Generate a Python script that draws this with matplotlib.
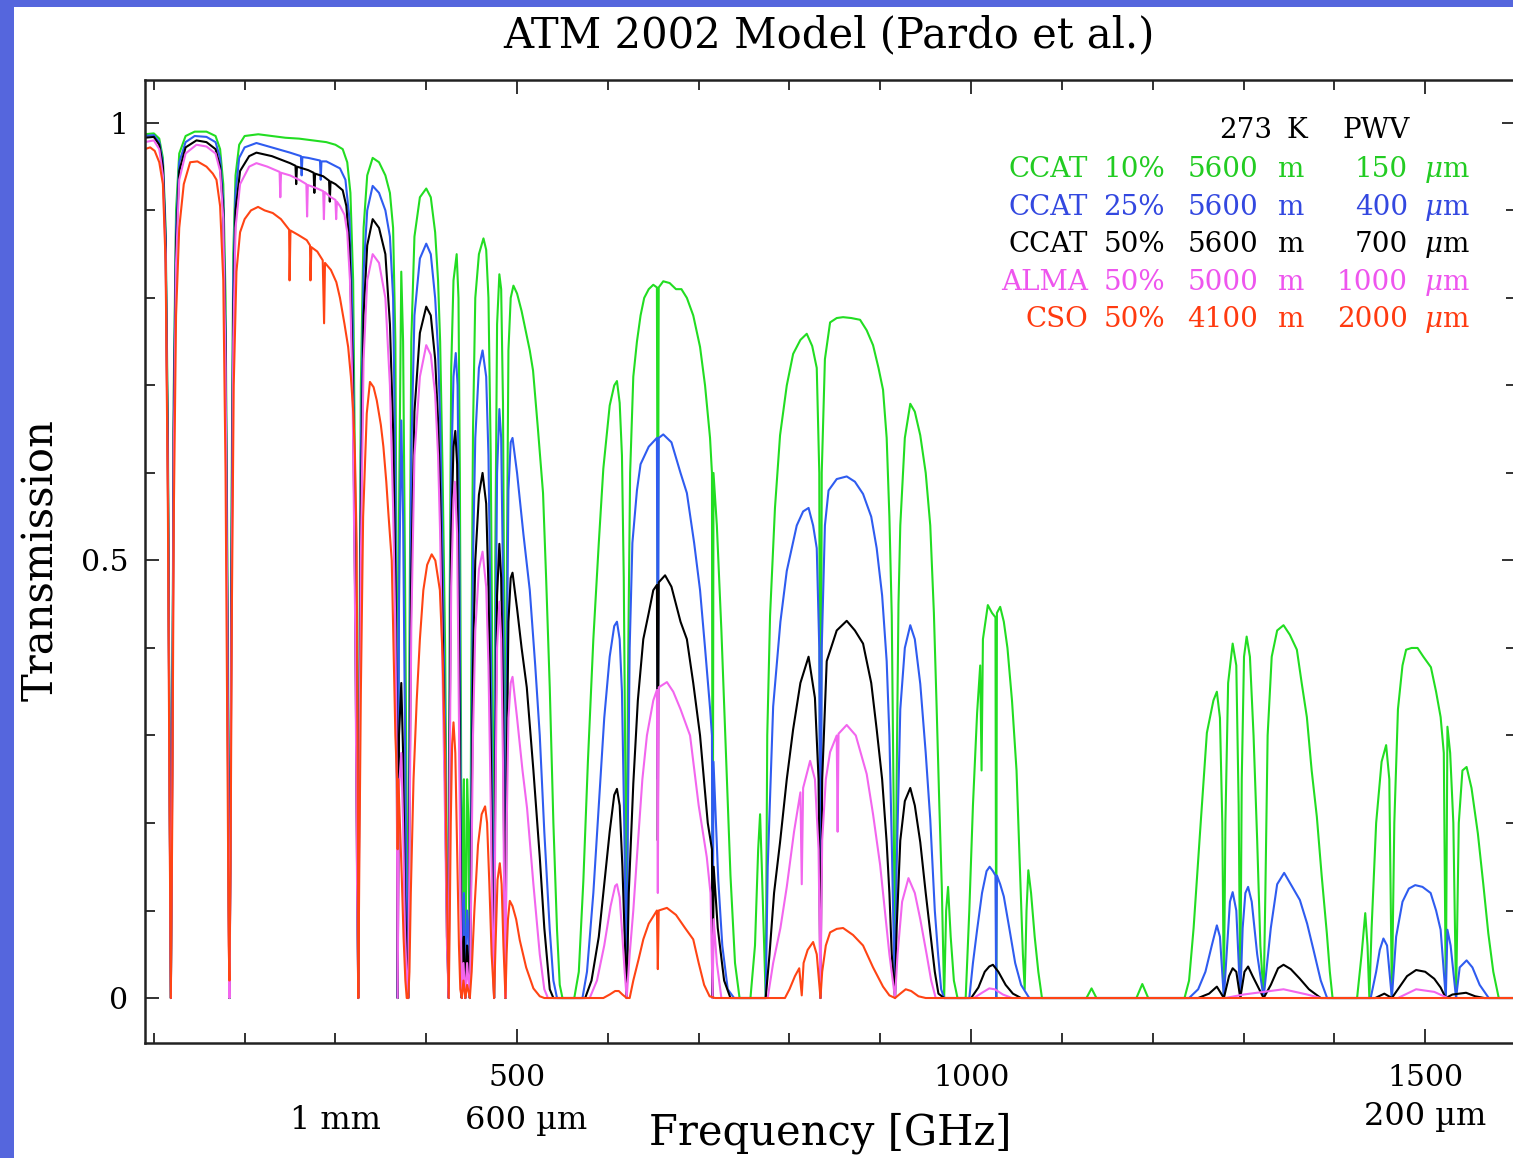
import numpy as np
import matplotlib
matplotlib.use("Agg")
import matplotlib.pyplot as plt
from matplotlib.patches import Rectangle
from matplotlib.ticker import MultipleLocator

# ---------------- data: (frequency GHz, transmission) ----------------
ccat10 = [
    (90, 0.987), (100, 0.988), (106, 0.982), (110, 0.96), (113, 0.88), (115.5, 0.65), (117.3, 0.3), (118.75, 0.0),
    (120.3, 0.3), (122, 0.7), (124.5, 0.9), (128, 0.965), (135, 0.985), (145, 0.99), (158, 0.99), (168, 0.985),
    (173, 0.97), (176.5, 0.93), (179, 0.8), (181, 0.5), (182.5, 0.15), (183.3, 0.0),
    (184.3, 0.2), (185.5, 0.55), (187.5, 0.85), (190, 0.94), (194, 0.975), (200, 0.985), (215, 0.987), (230, 0.985),
    (245, 0.983), (260, 0.982), (275, 0.98), (290, 0.978), (300, 0.975), (308, 0.97), (313, 0.955), (316.5, 0.92),
    (319.5, 0.82), (322, 0.55), (324, 0.2), (325.15, 0.0),
    (326.3, 0.35), (328, 0.7), (331, 0.88), (335, 0.94), (341, 0.96), (348, 0.955), (355, 0.94), (360, 0.92),
    (363.5, 0.88), (366, 0.75), (367.5, 0.45), (368.5, 0.0), (370, 0.55), (372.5, 0.83), (374.5, 0.75), (376.5, 0.5),
    (378.5, 0.2), (380.2, 0.0),
    (381.5, 0.4), (383.5, 0.75), (387, 0.87), (393, 0.915), (400, 0.925), (405, 0.915), (409.8, 0.875), (413, 0.82),
    (415.3, 0.75), (418, 0.6), (420.8, 0.4), (422.8, 0.15), (424.76, 0.0),
    (425.8, 0.45), (427.5, 0.72), (430, 0.82), (433.5, 0.85), (435.5, 0.8), (437, 0.6), (438.3, 0.3), (439.15, 0.0),
    (440.5, 0.2), (441.5, 0.25), (443, 0.0), (445, 0.25), (446.5, 0.2), (448, 0.0),
    (449.5, 0.35), (451.5, 0.65), (454, 0.8), (458, 0.85), (463, 0.868), (466, 0.855), (468.5, 0.8), (471, 0.62),
    (473, 0.35), (474.7, 0.0),
    (476, 0.5), (478, 0.77), (480.5, 0.827), (482.5, 0.81), (484.5, 0.68), (486, 0.4), (487.25, 0.0),
    (488.5, 0.45), (490.5, 0.74), (493, 0.8), (496, 0.814), (500, 0.805), (505, 0.785), (510, 0.76), (514, 0.74),
    (517.6, 0.717), (523, 0.65), (528.6, 0.577), (532, 0.48), (536, 0.355), (540, 0.2), (544, 0.078), (547, 0.015),
    (550, 0.0), (563, 0.0),
    (568, 0.03), (573, 0.134), (578, 0.27), (584, 0.41), (590, 0.52), (595, 0.605), (602, 0.677), (607, 0.7),
    (610, 0.705), (613, 0.68), (615.5, 0.62), (617.5, 0.48), (619.3, 0.25), (620.7, 0.0),
    (622, 0.35), (624.5, 0.6), (628, 0.71), (632, 0.75), (636, 0.78), (640, 0.8), (645, 0.81), (650, 0.815),
    (654, 0.812), (655, 0.4), (656, 0.812), (661, 0.819), (668, 0.817), (675, 0.81), (681, 0.81), (687, 0.8),
    (694, 0.78), (701.5, 0.744), (707, 0.7), (712.5, 0.64), (714.6, 0.6), (715.4, 0.02), (716.3, 0.6), (720, 0.54),
    (725, 0.42), (730, 0.28), (735, 0.14), (740, 0.04), (745, 0.0), (757, 0.0),
    (762, 0.06), (765.5, 0.17), (767.6, 0.21), (769.5, 0.15), (771.5, 0.08), (773.8, 0.0), (775.5, 0.3),
    (778.6, 0.437), (784, 0.56), (789.6, 0.643), (797, 0.7), (804, 0.736), (812, 0.752), (819, 0.759), (825, 0.745),
    (830, 0.72), (832.8, 0.6), (834.1, 0.02), (835.5, 0.6), (839, 0.73), (844.7, 0.772), (852, 0.777), (859, 0.778),
    (868, 0.777), (877.7, 0.775), (885, 0.763), (892, 0.746), (898, 0.72), (903, 0.695), (907, 0.64), (910, 0.55),
    (912.6, 0.437), (914.7, 0.22), (916.2, 0.0),
    (918, 0.25), (920, 0.45), (922, 0.54), (927, 0.64), (933, 0.679), (938, 0.67), (944, 0.643), (950, 0.6),
    (955, 0.54), (959, 0.44), (962, 0.333), (965, 0.22), (967.7, 0.127), (970.3, 0.0), (972.5, 0.1), (974.6, 0.127),
    (977.5, 0.07), (981, 0.02), (985, 0.0), (994, 0.0),
    (998, 0.1), (1002, 0.22), (1006.6, 0.326), (1010, 0.38), (1011.5, 0.26), (1013, 0.41), (1018.4, 0.449),
    (1023, 0.44), (1026.8, 0.435), (1027.6, 0.0), (1028.4, 0.44), (1032, 0.447), (1036, 0.43), (1040, 0.40),
    (1045, 0.34), (1050, 0.26), (1054, 0.14), (1057, 0.05), (1059, 0.01), (1061, 0.1), (1063, 0.146), (1066, 0.12),
    (1070, 0.07), (1074, 0.03), (1078, 0.0),
    (1127, 0.0), (1132.6, 0.011), (1138, 0.0), (1182, 0.0), (1188.5, 0.016), (1195, 0.0),
    (1235, 0.0), (1240, 0.02), (1245, 0.08), (1252, 0.188), (1259.6, 0.303), (1266.8, 0.34), (1270.6, 0.35),
    (1274, 0.32), (1276.6, 0.2), (1278.3, 0.0), (1280, 0.2), (1283, 0.36), (1288, 0.405), (1292, 0.38),
    (1294.6, 0.22), (1296.4, 0.0), (1298, 0.25), (1300.5, 0.39), (1303.4, 0.413), (1307, 0.39), (1311, 0.3),
    (1315, 0.18), (1318.5, 0.06), (1322.1, 0.0), (1324, 0.12), (1326.5, 0.3), (1331, 0.39), (1337, 0.42),
    (1344, 0.426), (1351, 0.415), (1358.7, 0.398), (1364, 0.36), (1369.7, 0.321), (1375, 0.26), (1380.7, 0.207),
    (1386, 0.14), (1391.7, 0.074), (1395, 0.03), (1398, 0.0),
    (1425, 0.0), (1430, 0.05), (1434, 0.097), (1436.5, 0.06), (1438.5, 0.0), (1441, 0.08), (1446, 0.2), (1452, 0.27),
    (1457, 0.289), (1460.5, 0.25), (1463.3, 0.0), (1466, 0.2), (1470, 0.33), (1475, 0.38), (1479, 0.398),
    (1485, 0.4), (1491.6, 0.4), (1498, 0.39), (1506.3, 0.378), (1512, 0.35), (1517, 0.321), (1520.5, 0.28),
    (1522.7, 0.0), (1524.5, 0.31), (1527.5, 0.28), (1531, 0.2), (1534, 0.0), (1537, 0.2), (1541, 0.26),
    (1545.6, 0.264), (1551, 0.24), (1558, 0.188), (1564, 0.13), (1569.5, 0.074), (1575, 0.03), (1581, 0.0),
    (1600, 0.0),
]

ccat25 = [
    (90, 0.985), (100, 0.986), (106, 0.978), (110, 0.955), (113, 0.87), (115.5, 0.62), (117.3, 0.28), (118.75, 0.0),
    (120.3, 0.28), (122, 0.68), (124.5, 0.88), (128, 0.955), (135, 0.978), (145, 0.985), (158, 0.984), (168, 0.978),
    (173, 0.96), (176.5, 0.91), (179, 0.76), (181, 0.45), (182.5, 0.12), (183.3, 0.0),
    (184.3, 0.17), (185.5, 0.5), (187.5, 0.82), (190, 0.92), (194, 0.96), (200, 0.972), (213, 0.977), (230, 0.972),
    (250, 0.966), (262, 0.962), (262.8, 0.94), (263.6, 0.961), (270, 0.96), (283, 0.957), (283.8, 0.935),
    (284.6, 0.956), (290, 0.956), (305, 0.948), (311, 0.935), (315.5, 0.89), (319, 0.77), (321.8, 0.5),
    (323.8, 0.18), (325.15, 0.0),
    (326.3, 0.3), (328, 0.62), (331, 0.83), (335, 0.9), (341, 0.928), (348, 0.92), (355, 0.9), (360, 0.87),
    (363.5, 0.8), (366, 0.6), (367.5, 0.35), (368.5, 0.0), (370, 0.45), (372.5, 0.66), (374.5, 0.55), (376.5, 0.32),
    (378.5, 0.08), (380.2, 0.0),
    (381.5, 0.3), (383.5, 0.62), (387, 0.78), (393, 0.845), (400, 0.862), (405, 0.85), (409.8, 0.8), (413, 0.74),
    (415.3, 0.66), (418, 0.5), (420.8, 0.3), (422.8, 0.1), (424.76, 0.0),
    (425.8, 0.35), (427.5, 0.6), (430, 0.71), (432.5, 0.737), (434.5, 0.7), (436.5, 0.5), (438, 0.22), (439.15, 0.0),
    (440.5, 0.1), (441.5, 0.12), (443, 0.0), (445, 0.1), (446.5, 0.08), (448, 0.0),
    (449.5, 0.22), (451.5, 0.5), (454, 0.64), (458, 0.72), (462, 0.74), (466, 0.71), (468.5, 0.62), (471, 0.42),
    (473, 0.17), (474.7, 0.0),
    (476, 0.35), (478, 0.6), (480.5, 0.673), (482.5, 0.64), (484.5, 0.48), (486, 0.22), (487.25, 0.0),
    (488.5, 0.35), (490.5, 0.58), (493, 0.635), (495, 0.64), (500, 0.6), (507, 0.53), (514, 0.466), (520, 0.38),
    (525, 0.3), (530, 0.19), (536, 0.078), (540, 0.02), (544, 0.0), (572, 0.0),
    (577, 0.03), (584, 0.12), (590, 0.22), (596, 0.32), (602, 0.39), (607, 0.425), (610, 0.43), (613, 0.41),
    (615.5, 0.35), (618, 0.2), (620.7, 0.0),
    (622, 0.2), (624, 0.4), (627, 0.52), (632, 0.58), (636, 0.61), (645, 0.63), (654, 0.64), (655, 0.25),
    (656, 0.64), (661, 0.644), (670, 0.635), (680, 0.6), (687, 0.577), (695, 0.52), (701.5, 0.466), (707, 0.4),
    (712.6, 0.33), (714.6, 0.3), (715.4, 0.0), (716.3, 0.27), (721.6, 0.134), (726, 0.06), (732, 0.01), (739, 0.0),
    (773.8, 0.0), (776, 0.15), (782, 0.333), (790, 0.43), (797, 0.488), (808, 0.54), (815, 0.556), (821, 0.56),
    (826, 0.54), (830, 0.514), (832.8, 0.4), (834.1, 0.0), (835.5, 0.4), (839, 0.54), (843, 0.58), (852, 0.593),
    (863, 0.596), (872, 0.59), (881, 0.576), (890, 0.55), (896, 0.514), (902, 0.46), (907, 0.385), (910, 0.3),
    (912.6, 0.178), (914.7, 0.07), (916.2, 0.0),
    (918, 0.15), (922, 0.33), (927, 0.4), (933, 0.426), (938, 0.41), (944, 0.359), (950, 0.28), (955, 0.204),
    (960, 0.1), (963.7, 0.049), (967, 0.01), (970.3, 0.0), (998, 0.0),
    (1002, 0.04), (1006.6, 0.078), (1012, 0.12), (1017, 0.145), (1020.4, 0.15), (1024, 0.145), (1026.8, 0.14),
    (1027.6, 0.0), (1028.4, 0.14), (1032, 0.13), (1036, 0.116), (1042, 0.08), (1048.5, 0.04), (1055, 0.015),
    (1064, 0.0), (1240, 0.0),
    (1250, 0.01), (1258, 0.03), (1265, 0.06), (1270.6, 0.083), (1274, 0.07), (1278.3, 0.0), (1282, 0.06),
    (1285, 0.11), (1288, 0.121), (1292, 0.1), (1296.4, 0.0), (1299, 0.08), (1302, 0.12), (1305, 0.127),
    (1309, 0.11), (1315, 0.05), (1322.1, 0.0), (1325, 0.03), (1330, 0.08), (1337, 0.13), (1344.7, 0.143),
    (1352, 0.13), (1362, 0.112), (1370, 0.085), (1377, 0.055), (1385, 0.02), (1392, 0.0), (1440, 0.0),
    (1446, 0.03), (1450, 0.055), (1454, 0.068), (1458, 0.06), (1463.3, 0.0), (1468, 0.07), (1475, 0.11),
    (1482, 0.125), (1489, 0.129), (1497, 0.127), (1506, 0.12), (1512, 0.1), (1517, 0.078), (1522.7, 0.0),
    (1524.5, 0.078), (1528, 0.06), (1534, 0.0), (1538, 0.035), (1545.6, 0.043), (1552, 0.035), (1560, 0.015),
    (1570, 0.0), (1600, 0.0),
]

ccat50 = [
    (90, 0.983), (100, 0.984), (106, 0.975), (110, 0.95), (113, 0.86), (115.5, 0.6), (117.3, 0.26), (118.75, 0.0),
    (120.3, 0.26), (122, 0.65), (124.5, 0.86), (128, 0.945), (135, 0.972), (147, 0.98), (158, 0.978), (168, 0.97),
    (173, 0.95), (176.5, 0.9), (179, 0.74), (181, 0.42), (182.5, 0.1), (183.3, 0.0),
    (184.3, 0.15), (185.5, 0.45), (187.5, 0.78), (190, 0.9), (195, 0.945), (205, 0.962), (213, 0.966), (230, 0.962),
    (250, 0.954), (256, 0.951), (256.8, 0.93), (257.6, 0.95), (270, 0.946), (276, 0.943), (276.8, 0.92),
    (277.6, 0.942), (286.5, 0.939), (293, 0.934), (293.8, 0.91), (294.6, 0.933), (300, 0.93), (308, 0.923),
    (312, 0.905), (315.5, 0.86), (319, 0.72), (321.8, 0.45), (323.8, 0.15), (325.15, 0.0),
    (326.3, 0.25), (328, 0.55), (331, 0.78), (335, 0.86), (341, 0.89), (348, 0.88), (355, 0.85), (360, 0.77),
    (363.5, 0.65), (366, 0.48), (367.5, 0.3), (368.5, 0.0), (370, 0.3), (372.5, 0.36), (374.5, 0.28), (376.5, 0.12),
    (378.5, 0.03), (380.2, 0.0),
    (381.5, 0.2), (383.5, 0.48), (387, 0.67), (393, 0.76), (400, 0.79), (405, 0.78), (409.8, 0.73), (413, 0.66),
    (415.3, 0.58), (418, 0.42), (420.8, 0.24), (422.8, 0.07), (424.76, 0.0),
    (425.8, 0.3), (427.5, 0.53), (430, 0.63), (432, 0.648), (434, 0.61), (436, 0.42), (437.7, 0.17), (439.15, 0.0),
    (440.5, 0.06), (441.5, 0.07), (443, 0.0), (445, 0.06), (446.5, 0.04), (448, 0.0),
    (449.5, 0.15), (451.5, 0.38), (454, 0.5), (458, 0.575), (462, 0.6), (466, 0.565), (468.5, 0.47), (471, 0.3),
    (473, 0.1), (474.7, 0.0),
    (476, 0.25), (478, 0.46), (480.5, 0.519), (482.5, 0.48), (484.5, 0.34), (486, 0.13), (487.25, 0.0),
    (488.5, 0.25), (490.5, 0.43), (493, 0.48), (495, 0.486), (500, 0.445), (505, 0.4), (510.7, 0.355), (518, 0.26),
    (525, 0.161), (530, 0.08), (536, 0.01), (540, 0.0), (575, 0.0),
    (582, 0.02), (590, 0.07), (596, 0.13), (602, 0.19), (607, 0.232), (610, 0.239), (613, 0.22), (616, 0.15),
    (618.5, 0.07), (620.7, 0.0),
    (623, 0.12), (628, 0.245), (633, 0.34), (639, 0.41), (645, 0.44), (650, 0.466), (654, 0.472), (655, 0.18),
    (656, 0.475), (663, 0.483), (670, 0.47), (680, 0.43), (687, 0.41), (694, 0.36), (701.5, 0.30), (710, 0.2),
    (714.6, 0.17), (715.4, 0.0), (716.5, 0.15), (721, 0.08), (728, 0.02), (735, 0.0), (773.8, 0.0),
    (778, 0.05), (783, 0.12), (789.6, 0.178), (797, 0.25), (804, 0.307), (812, 0.36), (821, 0.39), (828, 0.343),
    (832, 0.25), (834.1, 0.0), (836, 0.25), (841, 0.385), (852, 0.42), (863, 0.431), (872, 0.42), (881, 0.405),
    (890, 0.36), (896, 0.307), (902, 0.25), (907, 0.178), (910, 0.12), (912.6, 0.05), (916.2, 0.0),
    (918, 0.08), (922, 0.18), (927, 0.225), (933, 0.24), (938, 0.22), (944, 0.178), (950, 0.12), (955, 0.075),
    (960, 0.03), (964, 0.005), (970.3, 0.0), (1000, 0.0),
    (1008, 0.012), (1015, 0.03), (1020, 0.036), (1024, 0.038), (1030, 0.03), (1038, 0.015), (1046, 0.005),
    (1055, 0.0), (1250, 0.0),
    (1262, 0.005), (1270.6, 0.013), (1278.3, 0.0), (1284, 0.025), (1288, 0.034), (1292, 0.03), (1296.4, 0.0),
    (1301, 0.03), (1305, 0.036), (1310, 0.025), (1322.1, 0.0), (1330, 0.015), (1338, 0.034), (1344, 0.038),
    (1352, 0.033), (1362, 0.022), (1372, 0.01), (1385, 0.0), (1445, 0.0),
    (1455, 0.005), (1463.3, 0.0), (1470, 0.01), (1480, 0.025), (1490, 0.032), (1500, 0.03), (1510, 0.022),
    (1517, 0.012), (1522.7, 0.0), (1530, 0.004), (1545, 0.006), (1555, 0.002), (1565, 0.0), (1600, 0.0),
]

alma50 = [
    (90, 0.978), (100, 0.98), (106, 0.97), (110, 0.94), (113, 0.85), (115.5, 0.58), (117.3, 0.24), (118.75, 0.0),
    (120.3, 0.24), (122, 0.62), (124.5, 0.84), (128, 0.935), (135, 0.965), (147, 0.975), (158, 0.973), (168, 0.965),
    (173, 0.945), (176.5, 0.89), (179, 0.72), (181, 0.4), (182.5, 0.08), (183.3, 0.0),
    (184.3, 0.13), (185.5, 0.42), (187.5, 0.75), (190, 0.88), (195, 0.93), (205, 0.95), (213, 0.954), (225, 0.95),
    (238.5, 0.944), (239.3, 0.915), (240.1, 0.943), (250, 0.94), (260, 0.935), (268, 0.93), (268.8, 0.893),
    (269.6, 0.929), (280, 0.925), (286.5, 0.922), (287.3, 0.89), (288.1, 0.921), (295, 0.915), (300, 0.912),
    (300.8, 0.89), (301.6, 0.91), (305, 0.905), (310, 0.895), (313, 0.875), (316, 0.82), (319, 0.68), (321.8, 0.42),
    (323.8, 0.13), (325.15, 0.0),
    (326.3, 0.22), (328, 0.5), (331, 0.73), (335, 0.82), (341, 0.85), (348, 0.84), (355, 0.8), (360, 0.7),
    (363.5, 0.56), (366, 0.42), (367.5, 0.26), (368.5, 0.0), (370, 0.24), (372.5, 0.28), (374.5, 0.2), (376.5, 0.08),
    (378.5, 0.02), (380.2, 0.0),
    (381.5, 0.17), (383.5, 0.42), (387, 0.62), (393, 0.71), (400, 0.746), (405, 0.735), (409.8, 0.69), (413, 0.62),
    (415.3, 0.53), (418, 0.37), (420.8, 0.2), (422.8, 0.06), (424.76, 0.0),
    (425.8, 0.25), (427.5, 0.47), (430, 0.57), (431.5, 0.59), (434, 0.53), (436, 0.32), (437.7, 0.12), (439.15, 0.0),
    (441, 0.04), (443, 0.0), (445, 0.04), (448, 0.0),
    (449.5, 0.12), (451.5, 0.3), (454, 0.42), (458, 0.49), (462, 0.51), (466, 0.47), (468.5, 0.38), (471, 0.22),
    (473, 0.07), (474.7, 0.0),
    (476, 0.2), (478, 0.4), (480.5, 0.453), (482.5, 0.41), (484.5, 0.27), (486, 0.09), (487.25, 0.0),
    (488.5, 0.19), (490.5, 0.32), (493, 0.36), (495, 0.367), (500, 0.32), (506, 0.26), (511, 0.217), (518, 0.13),
    (525, 0.05), (530, 0.01), (534, 0.0), (580, 0.0),
    (588, 0.02), (596, 0.06), (603, 0.105), (608, 0.128), (610, 0.13), (613, 0.115), (616, 0.07), (618.5, 0.03),
    (620.7, 0.0),
    (624, 0.05), (628, 0.1), (632, 0.161), (638, 0.25), (643, 0.30), (650, 0.34), (654, 0.352), (655, 0.12),
    (656, 0.355), (665, 0.361), (672, 0.35), (680, 0.33), (690.5, 0.3), (700, 0.22), (708.9, 0.161), (713, 0.12),
    (715.4, 0.0), (716.5, 0.09), (720, 0.04), (725, 0.0), (776, 0.0),
    (782, 0.04), (790, 0.08), (797, 0.127), (805, 0.19), (812, 0.235), (813.5, 0.13), (815, 0.24), (822.7, 0.271),
    (828, 0.25), (832, 0.17), (834.1, 0.0), (836, 0.18), (840, 0.25), (844.7, 0.281), (852, 0.3), (853, 0.19),
    (854, 0.302), (863, 0.312), (873, 0.3), (885, 0.256), (892, 0.21), (899.8, 0.152), (905, 0.1), (910, 0.05),
    (916.2, 0.0),
    (919, 0.05), (924, 0.11), (931, 0.137), (938, 0.12), (944, 0.09), (951, 0.05), (956, 0.02), (961, 0.0),
    (1003, 0.0), (1012, 0.006), (1020, 0.011), (1026, 0.01), (1035, 0.004), (1045, 0.0),
    (1280, 0.0), (1300, 0.004), (1344, 0.01), (1370, 0.004), (1385, 0.0),
    (1470, 0.0), (1490, 0.01), (1510, 0.007), (1525, 0.0), (1600, 0.0),
]

cso50 = [
    (90, 0.97), (96, 0.972), (101, 0.968), (106, 0.955), (110, 0.93), (113, 0.84), (115.5, 0.56), (117.3, 0.22),
    (118.75, 0.0),
    (120.3, 0.2), (122, 0.55), (124.5, 0.78), (128, 0.88), (133, 0.93), (140, 0.955), (148, 0.956), (158, 0.95),
    (165, 0.942), (169, 0.935), (173, 0.905), (176.5, 0.82), (179, 0.6), (181, 0.3), (182.5, 0.06), (183.3, 0.02),
    (184.5, 0.15), (186, 0.45), (188, 0.7), (191, 0.83), (195, 0.875), (200, 0.89), (207, 0.9), (214.8, 0.904),
    (222, 0.9), (231, 0.897), (240, 0.89), (249, 0.878), (249.5, 0.82), (250.5, 0.877), (259, 0.872), (268.4, 0.866),
    (272, 0.86), (272.5, 0.82), (273.5, 0.858), (280, 0.853), (286, 0.843), (287.5, 0.771), (288.5, 0.84),
    (295, 0.832), (301, 0.818), (305, 0.80), (310, 0.77), (314, 0.744), (317, 0.71), (319.7, 0.668), (321.5, 0.62),
    (323.4, 0.516), (324.5, 0.25), (325.15, 0.0),
    (326.3, 0.15), (328, 0.35), (330.5, 0.55), (334.5, 0.668), (338, 0.704), (342, 0.698), (345.5, 0.683),
    (350, 0.655), (352.8, 0.63), (356, 0.59), (358.3, 0.554), (362, 0.5), (364, 0.4), (366, 0.3), (367.8, 0.25),
    (368.5, 0.17), (369.3, 0.25), (371, 0.2), (373, 0.14), (375, 0.07), (377, 0.02), (378.5, 0.0), (380.2, 0.0),
    (381.5, 0.03), (383, 0.12), (386, 0.25), (389.5, 0.34), (393, 0.41), (396.8, 0.466), (401, 0.495), (406, 0.507),
    (410, 0.5), (415, 0.466), (418, 0.39), (420.7, 0.277), (422.7, 0.12), (424.76, 0.0),
    (425.8, 0.08), (427, 0.2), (428.5, 0.29), (430, 0.315), (432, 0.28), (434, 0.17), (436, 0.06), (437.5, 0.01),
    (439.15, 0.0), (441, 0.02), (443, 0.0), (445, 0.015), (448, 0.0),
    (450, 0.03), (453, 0.1), (457, 0.175), (461, 0.21), (464.8, 0.219), (467, 0.2), (469.5, 0.13), (472, 0.05),
    (474.7, 0.0),
    (476.3, 0.06), (478.5, 0.135), (481, 0.154), (483, 0.13), (485, 0.06), (487.25, 0.0),
    (488.5, 0.05), (490, 0.09), (492, 0.111), (495, 0.105), (499, 0.09), (503, 0.066), (510, 0.035), (518, 0.011),
    (525, 0.002), (530, 0.0), (595, 0.0),
    (602, 0.004), (608, 0.008), (612, 0.008), (616, 0.004), (620.7, 0.0), (624, 0.0),
    (628, 0.02), (634, 0.045), (639, 0.067), (645, 0.085), (654, 0.1), (655, 0.033), (656, 0.1), (665, 0.103),
    (675, 0.095), (685, 0.08), (694, 0.067), (700, 0.04), (706, 0.015), (712, 0.002), (718, 0.0), (795, 0.0),
    (800, 0.01), (806, 0.025), (810.7, 0.034), (813.5, 0.003), (815.5, 0.04), (820, 0.055), (826, 0.064),
    (830, 0.05), (832.5, 0.02), (834.1, 0.0), (836, 0.03), (840, 0.06), (844.7, 0.075), (852, 0.079), (859, 0.08),
    (870, 0.072), (881, 0.06), (892, 0.035), (903, 0.013), (910, 0.003), (916.2, 0.0),
    (922, 0.005), (928, 0.01), (934, 0.008), (942, 0.002), (950, 0.0), (1600, 0.0),
]

series_colors = ["#22dd22", "#2f5cf0", "#000000", "#f266ee", "#ff4414"]
legend_sites = ["CCAT", "CCAT", "CCAT", "ALMA", "CSO"]
legend_pct = ["10%", "25%", "50%", "50%", "50%"]
legend_alt = ["5600", "5600", "5600", "5000", "4100"]
legend_pwv = ["150", "400", "700", "1000", "2000"]
text_colors = ["#22cc22", "#3348e0", "#000000", "#ee55ee", "#ff3a10"]

x_ticks = [500, 1000, 1500]
y_ticks = [0, 0.5, 1]
y_tick_labels = ["0", "0.5", "1"]
wavelength_labels = [(300, "1 mm"), (500, "600 µm"), (1500, "200 µm")]

# ---------------- figure ----------------
W, H = 1513, 1158
plt.rcParams["font.family"] = ["DejaVu Serif"]
plt.rcParams["mathtext.fontset"] = "dejavuserif"

fig = plt.figure(figsize=(W / 100, H / 100), dpi=100, facecolor="#5566dd")
fig.patches.append(Rectangle((14 / W, 0), 1, 1 - 7 / H, transform=fig.transFigure,
                             facecolor="white", edgecolor="none", zorder=-10))

ax = fig.add_axes([145 / W, 1 - 1043 / H, (1516 - 145) / W, (1043 - 80) / H])
ax.set_zorder(5)
for data, col in zip([ccat10, ccat25, ccat50, alma50, cso50], series_colors):
    arr = np.array(data)
    ax.plot(arr[:, 0], arr[:, 1], color=col, lw=1.5)

ax.set_xlim(90.3, 1600)
ax.set_ylim(-0.0514, 1.049)
ax.set_xticks(x_ticks)
ax.set_xticklabels([str(v) for v in x_ticks])
ax.set_yticks(y_ticks)
ax.set_yticklabels(y_tick_labels)
ax.xaxis.set_minor_locator(MultipleLocator(100))
ax.yaxis.set_minor_locator(MultipleLocator(0.1))
ax.tick_params(which="both", direction="in", top=True, right=True, width=1.3, color="#222222")
ax.tick_params(which="major", length=10)
ax.tick_params(which="minor", length=7)
ax.tick_params(axis="x", which="major", pad=15, labelsize=21.5)
ax.tick_params(axis="y", which="major", pad=12, labelsize=21.5)
for sp in ax.spines.values():
    sp.set_linewidth(1.8)
    sp.set_color("#222222")

# title and axis labels
fig.text(829 / W, 1 - 35 / H, "ATM 2002 Model (Pardo et al.)", ha="center", va="center", fontsize=30, zorder=6)
fig.text(830 / W, 1 - 1133 / H, "Frequency [GHz]", ha="center", va="center", fontsize=30, zorder=6)
fig.text(41 / W, 1 - 560 / H, "Transmission", ha="center", va="center", rotation=90, fontsize=30, zorder=6)

xt = ax.get_xaxis_transform()
for fval, lab in wavelength_labels:
    yy = -0.080 if fval < 1000 else -0.076
    ax.text(fval + (10 if fval == 500 else 0), yy, lab, transform=xt, ha="center", va="center",
            fontsize=23, clip_on=False)

# legend block (drawn inside the axes so it sits above the curves)
fs = 20
tf = fig.transFigure
ax.text(1272 / W, 1 - 138 / H, "273", ha="right", va="baseline", fontsize=fs, transform=tf)
ax.text(1287 / W, 1 - 138 / H, "K", ha="left", va="baseline", fontsize=fs, transform=tf)
ax.text(1410 / W, 1 - 138 / H, "PWV", ha="right", va="baseline", fontsize=fs, transform=tf)
row_base = [177, 215, 252, 290, 327]
for i in range(5):
    yb = 1 - row_base[i] / H
    c = text_colors[i]
    ax.text(1088 / W, yb, legend_sites[i], ha="right", va="baseline", fontsize=fs, color=c, transform=tf)
    ax.text(1165 / W, yb, legend_pct[i], ha="right", va="baseline", fontsize=fs, color=c, transform=tf)
    ax.text(1258 / W, yb, legend_alt[i], ha="right", va="baseline", fontsize=fs, color=c, transform=tf)
    ax.text(1277 / W, yb, "m", ha="left", va="baseline", fontsize=fs, color=c, transform=tf)
    ax.text(1408 / W, yb, legend_pwv[i], ha="right", va="baseline", fontsize=fs, color=c, transform=tf)
    ax.text(1424 / W, yb, r"$\mu$m", ha="left", va="baseline", fontsize=fs, color=c, transform=tf)

fig.savefig("out.png", dpi=100, facecolor=fig.get_facecolor())
